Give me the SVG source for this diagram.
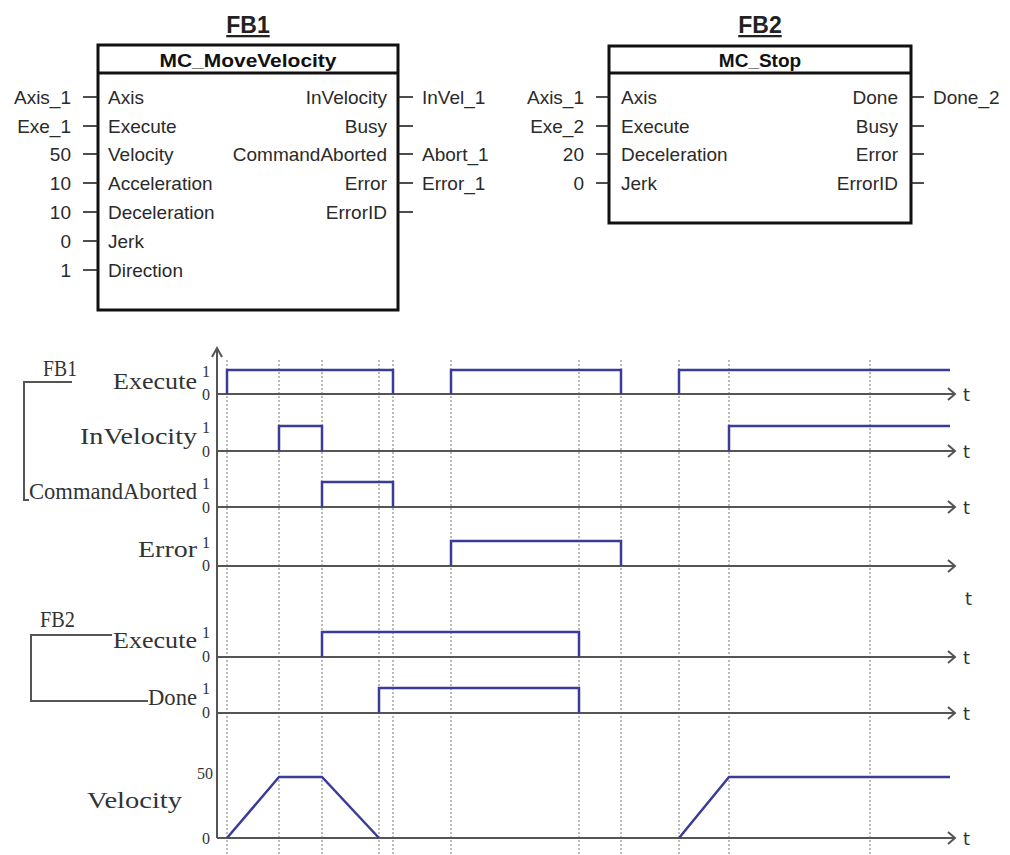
<svg xmlns="http://www.w3.org/2000/svg" width="1010" height="855" viewBox="0 0 1010 855">
<style>
.box{fill:none;stroke:#111;stroke-width:3}
.stub{stroke:#222;stroke-width:1.6}
.pin{font-family:"Liberation Sans",Arial,sans-serif;font-size:19px;fill:#2a2a2a}
.title{font-family:"Liberation Sans",Arial,sans-serif;font-size:19px;font-weight:bold;fill:#111}
.fb{font-family:"Liberation Sans",Arial,sans-serif;font-size:23px;font-weight:bold;fill:#222;text-decoration:underline}
.lab{font-family:"Liberation Serif","Times New Roman",serif;font-size:23px;fill:#333}
.lv{font-family:"Liberation Serif","Times New Roman",serif;font-size:16px;fill:#333}
.t{font-family:"DejaVu Sans",sans-serif;font-size:18px;fill:#333}
.axis{stroke:#555;stroke-width:2;fill:none}
.sig{stroke:#3b3b9a;stroke-width:2.5;fill:none;stroke-linejoin:miter}
.dot{stroke:#777;stroke-width:1;stroke-dasharray:2,2}
.brk{stroke:#555;stroke-width:2;fill:none}
</style>

<g id="fb1">
  <text class="fb" x="248" y="33" text-anchor="middle">FB1</text>
  <rect class="box" x="98" y="45" width="300" height="265"/>
  <line class="box" x1="98" y1="73" x2="398" y2="73"/>
  <text class="title" x="248" y="67" text-anchor="middle" textLength="177" lengthAdjust="spacingAndGlyphs">MC_MoveVelocity</text>
  <g class="stub">
    <line x1="83" y1="97" x2="98" y2="97"/><line x1="83" y1="126" x2="98" y2="126"/>
    <line x1="83" y1="154" x2="98" y2="154"/><line x1="83" y1="183" x2="98" y2="183"/>
    <line x1="83" y1="212" x2="98" y2="212"/><line x1="83" y1="241" x2="98" y2="241"/>
    <line x1="83" y1="270" x2="98" y2="270"/>
    <line x1="398" y1="97" x2="413" y2="97"/><line x1="398" y1="126" x2="413" y2="126"/>
    <line x1="398" y1="154" x2="413" y2="154"/><line x1="398" y1="183" x2="413" y2="183"/>
    <line x1="398" y1="212" x2="413" y2="212"/>
  </g>
  <g class="pin" text-anchor="end">
    <text x="71" y="104">Axis_1</text><text x="71" y="133">Exe_1</text>
    <text x="71" y="161">50</text><text x="71" y="190">10</text>
    <text x="71" y="219">10</text><text x="71" y="248">0</text>
    <text x="71" y="277">1</text>
    <text x="387" y="104">InVelocity</text><text x="387" y="133">Busy</text>
    <text x="387" y="161">CommandAborted</text><text x="387" y="190">Error</text>
    <text x="387" y="219">ErrorID</text>
  </g>
  <g class="pin">
    <text x="108" y="104">Axis</text><text x="108" y="133">Execute</text>
    <text x="108" y="161">Velocity</text><text x="108" y="190">Acceleration</text>
    <text x="108" y="219">Deceleration</text><text x="108" y="248">Jerk</text>
    <text x="108" y="277">Direction</text>
    <text x="422" y="104">InVel_1</text><text x="422" y="161">Abort_1</text>
    <text x="422" y="190">Error_1</text>
  </g>
</g>

<g id="fb2">
  <text class="fb" x="760" y="33" text-anchor="middle">FB2</text>
  <rect class="box" x="609" y="46" width="302" height="177"/>
  <line class="box" x1="609" y1="73" x2="911" y2="73"/>
  <text class="title" x="760" y="67" text-anchor="middle">MC_Stop</text>
  <g class="stub">
    <line x1="596" y1="97" x2="609" y2="97"/><line x1="596" y1="126" x2="609" y2="126"/>
    <line x1="596" y1="154" x2="609" y2="154"/><line x1="596" y1="183" x2="609" y2="183"/>
    <line x1="911" y1="97" x2="924" y2="97"/><line x1="911" y1="126" x2="924" y2="126"/>
    <line x1="911" y1="154" x2="924" y2="154"/><line x1="911" y1="183" x2="924" y2="183"/>
  </g>
  <g class="pin" text-anchor="end">
    <text x="584" y="104">Axis_1</text><text x="584" y="133">Exe_2</text>
    <text x="584" y="161">20</text><text x="584" y="190">0</text>
    <text x="898" y="104">Done</text><text x="898" y="133">Busy</text>
    <text x="898" y="161">Error</text><text x="898" y="190">ErrorID</text>
  </g>
  <g class="pin">
    <text x="621" y="104">Axis</text><text x="621" y="133">Execute</text>
    <text x="621" y="161">Deceleration</text><text x="621" y="190">Jerk</text>
    <text x="933" y="104">Done_2</text>
  </g>
</g>

<g id="grid">
  <g class="dot">
    <line x1="227" y1="360" x2="227" y2="855"/><line x1="279" y1="360" x2="279" y2="855"/>
    <line x1="322" y1="360" x2="322" y2="855"/><line x1="379" y1="360" x2="379" y2="855"/>
    <line x1="393" y1="360" x2="393" y2="855"/><line x1="451" y1="360" x2="451" y2="855"/>
    <line x1="579" y1="360" x2="579" y2="855"/><line x1="621" y1="360" x2="621" y2="855"/>
    <line x1="679" y1="360" x2="679" y2="855"/><line x1="729" y1="360" x2="729" y2="855"/>
    <line x1="870" y1="360" x2="870" y2="855"/>
  </g>
</g>

<g id="axes">
  <path class="axis" d="M217,838 V348 M212,357 L217,348 L222,357"/>
  <path class="axis" d="M217,394 H955 M948,388 L955,394 L948,400"/>
  <path class="axis" d="M217,451 H955 M948,445 L955,451 L948,457"/>
  <path class="axis" d="M217,507 H955 M948,501 L955,507 L948,513"/>
  <path class="axis" d="M217,566 H955 M948,560 L955,566 L948,572"/>
  <path class="axis" d="M217,657 H955 M948,651 L955,657 L948,663"/>
  <path class="axis" d="M217,713 H955 M948,707 L955,713 L948,719"/>
  <path class="axis" d="M217,838 H955 M948,832 L955,838 L948,844"/>
  <g class="t">
    <text x="963" y="401">t</text><text x="963" y="458">t</text>
    <text x="963" y="514">t</text><text x="965" y="605">t</text>
    <text x="963" y="664">t</text><text x="963" y="720">t</text>
    <text x="963" y="845">t</text>
  </g>
</g>

<g id="signals">
  <path class="sig" d="M227,394 V370 H393 V394 M451,394 V370 H621 V394 M679,394 V370 H950"/>
  <path class="sig" d="M279,451 V426 H322 V451 M729,451 V426 H950"/>
  <path class="sig" d="M322,507 V482 H393 V507"/>
  <path class="sig" d="M451,566 V541 H621 V566"/>
  <path class="sig" d="M322,657 V632 H579 V657"/>
  <path class="sig" d="M379,713 V688 H579 V713"/>
  <path class="sig" d="M227,838 L279,777 H322 L379,838 M679,838 L729,777 H950"/>
</g>

<g id="labels">
  <path class="brk" d="M72,382 H24 V500 H29"/>
  <path class="brk" d="M112,635 H31 V701 H148"/>
  <text class="lab" x="43" y="376" textLength="34" lengthAdjust="spacingAndGlyphs">FB1</text>
  <text class="lab" x="40" y="627" textLength="35" lengthAdjust="spacingAndGlyphs">FB2</text>
  <g class="lab" text-anchor="end">
    <text x="197" y="389" textLength="84" lengthAdjust="spacingAndGlyphs">Execute</text>
    <text x="197" y="444" textLength="117" lengthAdjust="spacingAndGlyphs">InVelocity</text>
    <text x="197" y="499" textLength="168" lengthAdjust="spacingAndGlyphs">CommandAborted</text>
    <text x="197" y="557" textLength="59" lengthAdjust="spacingAndGlyphs">Error</text>
    <text x="197" y="648" textLength="84" lengthAdjust="spacingAndGlyphs">Execute</text>
    <text x="197" y="705" textLength="49" lengthAdjust="spacingAndGlyphs">Done</text>
    <text x="182" y="808" textLength="95" lengthAdjust="spacingAndGlyphs">Velocity</text>
  </g>
  <g class="lv" text-anchor="middle">
    <text x="206" y="377">1</text><text x="206" y="400">0</text>
    <text x="206" y="433">1</text><text x="206" y="457">0</text>
    <text x="206" y="489">1</text><text x="206" y="513">0</text>
    <text x="206" y="548">1</text><text x="206" y="571">0</text>
    <text x="206" y="638">1</text><text x="206" y="662">0</text>
    <text x="206" y="694">1</text><text x="206" y="718">0</text>
    <text x="205" y="779">50</text><text x="206" y="844">0</text>
  </g>
</g>
</svg>
